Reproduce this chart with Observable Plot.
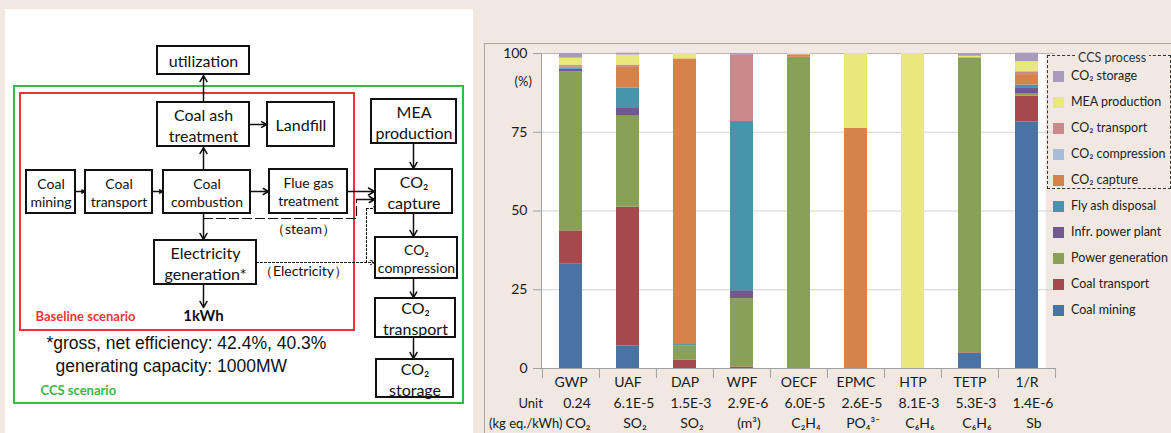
<!DOCTYPE html>
<html>
<head>
<meta charset="utf-8">
<script src="https://cdn.jsdelivr.net/npm/d3@7"></script>
<script src="https://cdn.jsdelivr.net/npm/@observablehq/plot@0.6"></script>
<style>
  html, body { margin: 0; padding: 0; }
  body { width: 1171px; height: 433px; overflow: hidden; position: relative; background: #F1E8E2; font-family: Lato, sans-serif; }
  .abs { position: absolute; }
  #leftpanel { left: 5px; top: 9px; width: 468px; height: 430px; background: #fff; }
  #chartframe { left: 484px; top: 43px; width: 700px; height: 400px; border-top: 1px solid #A8A8A8; border-left: 1px solid #A8A8A8; }
  #legend { left: 0; top: 0; }
  .lg-item { position: absolute; font-size: 12.5px; color: #222; white-space: nowrap; }
  .lg-sw { position: absolute; width: 11px; height: 11px; }
</style>
</head>
<body>
<div id="leftpanel" class="abs"></div>
<div id="diagram" class="abs" style="left:0;top:0"></div>
<div id="chartframe" class="abs"></div>
<div id="chart" class="abs" style="left:484px;top:43px"></div>
<div id="legend" class="abs"></div>
<script>
// ---------------- Chart data ----------------
const categories = ["GWP", "UAF", "DAP", "WPF", "OECF", "EPMC", "HTP", "TETP", "1/R"];
const unitValues = ["0.24", "6.1E-5", "1.5E-3", "2.9E-6", "6.0E-5", "2.6E-5", "8.1E-3", "5.3E-3", "1.4E-6"];
const unitSubstances = ["CO₂", "SO₂", "SO₂", "(m³)", "C₂H₄", "PO₄³⁻", "C₆H₆", "C₆H₆", "Sb"];
const yTicks = [0, 25, 50, 75, 100];

const processes = ["Coal mining", "Coal transport", "Power generation", "Infr. power plant", "Fly ash disposal",
  "CO₂ capture", "CO₂ compression", "CO₂ transport", "MEA production", "CO₂ storage"];

// share (%) of each process, per impact category (same order as categories)
const coalMining      = [33.1,  7.2,  0.0,  0.0,  0.0,  0.0,   0.0,  4.8, 78.3];
const coalTransport   = [10.6, 44.0,  2.6,  0.5,  0.0,  0.0,   0.0,  0.2,  8.2];
const powerGeneration = [50.5, 28.9,  4.5, 21.7, 98.8,  0.0,   0.0, 93.4,  0.6];
const infrPowerPlant  = [ 0.8,  2.7,  0.0,  2.5,  0.0,  0.0,   0.0,  0.2,  1.8];
const flyAshDisposal  = [ 0.3,  6.2,  0.5, 53.7,  0.0,  0.0,   0.0,  0.0,  1.1];
const co2Capture      = [ 0.5,  6.6, 90.7,  0.0,  0.8, 76.2,   0.0,  0.0,  3.3];
const co2Compression  = [ 0.1,  0.0,  0.0,  0.0,  0.0,  0.0,   0.0,  0.0,  0.0];
const co2Transport    = [ 0.4,  0.7,  0.0, 21.2,  0.0,  0.0,   0.0,  0.0,  0.9];
const meaProduction   = [ 2.2,  3.2,  1.7,  0.0,  0.4, 23.8, 100.0,  0.5,  3.2];
const co2Storage      = [ 1.5,  0.6,  0.0,  0.4,  0.0,  0.0,   0.0,  0.9,  2.7];

const seriesValues = [coalMining, coalTransport, powerGeneration, infrPowerPlant, flyAshDisposal,
  co2Capture, co2Compression, co2Transport, meaProduction, co2Storage];

const colors = ["#4A72A2", "#A54A4C", "#87A257", "#71598F", "#4894AA",
  "#D5824B", "#A7BCD9", "#C9888C", "#E9E87D", "#A99BBF"];

// ---------------- Diagram layout ----------------
const diagramBoxes = [
  {label: "utilization", x1: 157, x2: 249, y1: 46, y2: 74, size: 16},
  {label: "Coal ash\ntreatment", x1: 157, x2: 249, y1: 102, y2: 146, size: 16},
  {label: "Landfill", x1: 267, x2: 334, y1: 102, y2: 146, size: 16},
  {label: "MEA\nproduction", x1: 371, x2: 456, y1: 99, y2: 143, size: 16},
  {label: "Coal\nmining", x1: 26, x2: 75, y1: 170, y2: 213, size: 14},
  {label: "Coal\ntransport", x1: 85, x2: 152, y1: 170, y2: 213, size: 14},
  {label: "Coal\ncombustion", x1: 163, x2: 250, y1: 170, y2: 213, size: 14},
  {label: "Flue gas\ntreatment", x1: 269, x2: 347, y1: 169, y2: 213, size: 14},
  {label: "CO₂\ncapture", x1: 375, x2: 452, y1: 169, y2: 213, size: 16},
  {label: "Electricity\ngeneration*", x1: 154, x2: 256, y1: 240, y2: 284, size: 16},
  {label: "CO₂\ncompression", x1: 375, x2: 457, y1: 237, y2: 278, size: 14},
  {label: "CO₂\ntransport", x1: 375, x2: 455, y1: 298, y2: 337, size: 16},
  {label: "CO₂\nstorage", x1: 376, x2: 453, y1: 359, y2: 397, size: 16}
];
const scenarioFrames = [
  {name: "CCS", x1: 14, x2: 463, y1: 86, y2: 403, color: "#3DB54A"},
  {name: "Baseline", x1: 20, x2: 354, y1: 93, y2: 330, color: "#EE3535"}
];
const solidArrows = [
  {x1: 203, y1: 102, x2: 203, y2: 75},
  {x1: 203, y1: 170, x2: 203, y2: 147},
  {x1: 249, y1: 124, x2: 266, y2: 124},
  {x1: 75, y1: 191, x2: 84, y2: 191},
  {x1: 152, y1: 191, x2: 162, y2: 191},
  {x1: 250, y1: 191, x2: 268, y2: 191},
  {x1: 347, y1: 191, x2: 374, y2: 191},
  {x1: 356, y1: 199, x2: 374, y2: 199},
  {x1: 413, y1: 143, x2: 413, y2: 168},
  {x1: 203, y1: 213, x2: 203, y2: 239},
  {x1: 203, y1: 284, x2: 203, y2: 307},
  {x1: 413, y1: 213, x2: 413, y2: 236},
  {x1: 413, y1: 278, x2: 413, y2: 297},
  {x1: 413, y1: 337, x2: 413, y2: 358}
];
const dottedArrows = [
  {x1: 256, y1: 262, x2: 374, y2: 262},
  {x1: 366, y1: 208, x2: 376, y2: 208}
];
const steamPath = [[203, 218], [356, 218], [356, 200]];
const electricityPath = [[366, 262], [366, 208]];
const diagramNotes = [
  {text: "（steam）", x: 303, y: 229, size: 14, weight: "normal", color: "#111", anchor: "middle", font: "Lato, sans-serif"},
  {text: "（Electricity）", x: 303, y: 271, size: 14, weight: "normal", color: "#111", anchor: "middle", font: "Lato, sans-serif"},
  {text: "1kWh", x: 203, y: 316, size: 15, weight: "bold", color: "#111", anchor: "middle", font: "Lato, sans-serif"},
  {text: "Baseline scenario", x: 35, y: 316, size: 13, weight: "bold", color: "#EE3535", anchor: "start", font: "Lato, sans-serif"},
  {text: "*gross, net efficiency: 42.4%, 40.3%", x: 46, y: 343, size: 17.5, weight: "normal", color: "#111", anchor: "start", font: "Liberation Sans, Arial, sans-serif"},
  {text: "generating capacity: 1000MW", x: 55, y: 366, size: 17.5, weight: "normal", color: "#111", anchor: "start", font: "Liberation Sans, Arial, sans-serif"},
  {text: "CCS scenario", x: 40, y: 390, size: 13, weight: "bold", color: "#3DB54A", anchor: "start", font: "Lato, sans-serif"}
];

// ---------------- Diagram ----------------
const noteMarks = diagramNotes.map(n => Plot.text([n], {
  x: "x", y: "y", text: "text", fontSize: n.size, fontWeight: n.weight, fill: n.color,
  textAnchor: n.anchor, fontFamily: n.font
}));
const diagram = Plot.plot({
  width: 480, height: 433, margin: 0,
  x: {domain: [0, 480], range: [0, 480], axis: null},
  y: {domain: [0, 433], range: [0, 433], axis: null},
  style: {background: "transparent", fontFamily: "Lato, sans-serif", color: "#111", overflow: "visible"},
  marks: [
    Plot.rect(scenarioFrames, {x1: "x1", x2: "x2", y1: "y1", y2: "y2", fill: "none", stroke: d => d.color, strokeWidth: 2}),
    Plot.line(steamPath, {x: d => d[0], y: d => d[1], stroke: "#111", strokeWidth: 1.2, strokeDasharray: "9,4"}),
    Plot.line(electricityPath, {x: d => d[0], y: d => d[1], stroke: "#111", strokeWidth: 1.1, strokeDasharray: "2,2"}),
    Plot.arrow(dottedArrows, {x1: "x1", y1: "y1", x2: "x2", y2: "y2", stroke: "#111", strokeWidth: 1.1, strokeDasharray: "2,2", headLength: 6}),
    Plot.arrow(solidArrows, {x1: "x1", y1: "y1", x2: "x2", y2: "y2", stroke: "#111", strokeWidth: 1.5, headLength: 7}),
    Plot.rect(diagramBoxes, {x1: "x1", x2: "x2", y1: "y1", y2: "y2", fill: "white", stroke: "#111", strokeWidth: 2}),
    Plot.text(diagramBoxes, {x: d => (d.x1 + d.x2) / 2, y: d => (d.y1 + d.y2) / 2, text: "label", fontSize: "size", lineHeight: 1.3, fill: "#111"}),
    ...noteMarks
  ]
});
document.getElementById("diagram").appendChild(diagram);

// ---------------- Stacked bar chart ----------------
const rows = processes.flatMap((p, pi) => categories.map((c, ci) => ({category: c, process: p, value: seriesValues[pi][ci]})));
const W = 687, H = 390, mL = 57, mR = 116, mT = 10, mB = 65;
const step = (W - mL - mR) / categories.length;
const axisGray = "#A0A0A0";

const chart = Plot.plot({
  width: W, height: H, marginLeft: mL, marginRight: mR, marginTop: mT, marginBottom: mB,
  style: {background: "transparent", fontFamily: "Lato, sans-serif", fontSize: "13.5px", color: "#1a1a1a", overflow: "visible"},
  x: {domain: categories, paddingInner: 0.6, paddingOuter: 0.3, axis: null},
  y: {domain: [0, 100], axis: null},
  color: {domain: processes, range: colors},
  marks: [
    Plot.frame({fill: "white", stroke: null, insetRight: 10}),
    Plot.gridY([25, 50, 75], {stroke: "#D2D2D2", strokeOpacity: 1}),
    Plot.ruleY([100], {stroke: "#B8B8B8"}),
    Plot.axisY(yTicks, {tickSize: 8, tickPadding: 6, stroke: axisGray, fill: "#1a1a1a", fontSize: 14, label: null}),
    Plot.frame({anchor: "left", stroke: axisGray}),
    Plot.barY(rows, {x: "category", y: "value", fill: "process"}),
    Plot.ruleY([0], {stroke: axisGray}),
    Plot.axisX(categories, {tickSize: 10, dx: -step / 2, stroke: axisGray, tickFormat: () => "", label: null}),
    Plot.axisX([categories[categories.length - 1]], {tickSize: 10, dx: step / 2, stroke: axisGray, tickFormat: () => "", label: null}),
    Plot.text(categories, {x: d => d, frameAnchor: "bottom", dy: 18, text: d => d, fontSize: 14, fill: "#1a1a1a"}),
    Plot.text(categories, {x: d => d, frameAnchor: "bottom", dy: 39, dx: 6, text: (d, i) => unitValues[i], fontSize: 14, fill: "#1a1a1a"}),
    Plot.text(categories, {x: d => d, frameAnchor: "bottom", dy: 59, dx: 7, text: (d, i) => unitSubstances[i], fontSize: 14, fill: "#1a1a1a"}),
    Plot.text(["Unit"], {frameAnchor: "bottom-left", dx: -23, dy: 39, text: d => d, fontSize: 13, fill: "#1a1a1a"}),
    Plot.text(["(kg eq./kWh)"], {frameAnchor: "bottom-left", dx: 21, dy: 59, textAnchor: "end", text: d => d, fontSize: 13, fill: "#1a1a1a"}),
    Plot.text(["(%)"], {frameAnchor: "top-left", dx: -27, dy: 23, text: d => d, fontSize: 13, fill: "#1a1a1a"})
  ]
});
document.getElementById("chart").appendChild(chart);

// ---------------- Legend ----------------
const legend = document.getElementById("legend");
const lgLeft = 1053, lgTop = 71, lgStep = 26;
const box = document.createElement("div");
box.style.cssText = "position:absolute;left:1047px;top:55px;width:124px;height:134px;border:1px dashed #333;box-sizing:border-box;";
legend.appendChild(box);
const title = document.createElement("div");
title.className = "lg-item";
title.textContent = "CCS process";
title.style.cssText += "left:1075px;top:50px;padding:0 3px;background:#F1E8E2;color:#333;";
legend.appendChild(title);
processes.slice().reverse().forEach((p, i) => {
  const ci = processes.indexOf(p);
  const sw = document.createElement("div");
  sw.className = "lg-sw";
  sw.style.left = lgLeft + "px";
  sw.style.top = (lgTop + i * lgStep) + "px";
  sw.style.background = colors[ci];
  legend.appendChild(sw);
  const t = document.createElement("div");
  t.className = "lg-item";
  t.textContent = p;
  t.style.left = (lgLeft + 18) + "px";
  t.style.top = (lgTop + i * lgStep - 3) + "px";
  legend.appendChild(t);
});
</script>
</body>
</html>
